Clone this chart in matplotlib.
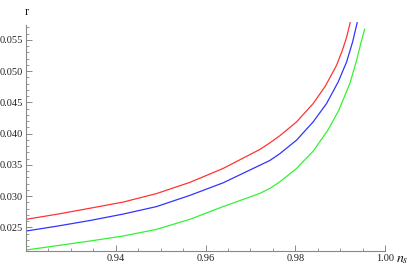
import matplotlib
matplotlib.use("Agg")
import matplotlib.pyplot as plt
from matplotlib.ticker import MultipleLocator, FixedLocator

# Data (n_s, r)
ns_red = [0.92000, 0.92707, 0.93420, 0.94163, 0.94907, 0.95650, 0.96392, 0.97211, 0.97434,
          0.97657, 0.97806, 0.98029, 0.98399, 0.98671, 0.98921, 0.99050, 0.99144, 0.99224]
r_red = [0.02628, 0.02712, 0.02805, 0.02904, 0.03040, 0.03219, 0.03442, 0.03746, 0.03851,
         0.03966, 0.04054, 0.04187, 0.04480, 0.04760, 0.05093, 0.05332, 0.05540, 0.05775]

ns_blue = [0.92000, 0.92707, 0.93420, 0.94163, 0.94907, 0.95650, 0.96392, 0.97137, 0.97434,
           0.97657, 0.98029, 0.98399, 0.98698, 0.98957, 0.99144, 0.99278, 0.99380]
r_blue = [0.02441, 0.02521, 0.02609, 0.02712, 0.02832, 0.03011, 0.03212, 0.03468, 0.03570,
          0.03679, 0.03895, 0.04187, 0.04481, 0.04826, 0.05145, 0.05465, 0.05775]

ns_green = [0.92000, 0.92707, 0.93420, 0.94163, 0.94907, 0.95650, 0.96392, 0.97211, 0.97434,
            0.97657, 0.98029, 0.98399, 0.98727, 0.98972, 0.99218, 0.99367, 0.99478, 0.99545]
r_green = [0.02137, 0.02209, 0.02281, 0.02361, 0.02468, 0.02628, 0.02832, 0.03043, 0.03123,
           0.03228, 0.03442, 0.03719, 0.04054, 0.04374, 0.04805, 0.05172, 0.05492, 0.05668]

x_major = [0.94, 0.96, 0.98, 1.00]
x_labels = ["0.94", "0.96", "0.98", "1.00"]
y_major = [0.025, 0.030, 0.035, 0.040, 0.045, 0.050, 0.055]
y_labels = ["0.025", "0.030", "0.035", "0.040", "0.045", "0.050", "0.055"]

xmin, xmax = 0.92, 1.00
ymin, ymax = 0.02117, 0.0578

plt.rcParams['font.family'] = ['Liberation Serif', 'DejaVu Serif']

fig = plt.figure(figsize=(4.15, 2.68), dpi=100)
ax = fig.add_axes([26/415, (268-251.3)/268, (385-26)/415, (251.3-22.3)/268])

ax.plot(ns_red, r_red, color=(1, 0.2, 0.2), lw=0.9)
ax.plot(ns_blue, r_blue, color=(0.2, 0.2, 1), lw=0.9)
ax.plot(ns_green, r_green, color=(0.2, 0.95, 0.2), lw=0.9)

ax.set_xlim(xmin, xmax)
ax.set_ylim(ymin, ymax)

axis_col = '#888888'
for s in ['top', 'right']:
    ax.spines[s].set_visible(False)
for s in ['left', 'bottom']:
    ax.spines[s].set_color(axis_col)
    ax.spines[s].set_linewidth(0.8)
ax.spines['left'].set_bounds(ymin, 0.0573)

ax.xaxis.set_major_locator(FixedLocator(x_major))
ax.set_xticklabels(x_labels)
ax.xaxis.set_minor_locator(MultipleLocator(0.005))
ax.yaxis.set_major_locator(FixedLocator(y_major))
ax.set_yticklabels(y_labels)
ax.yaxis.set_minor_locator(MultipleLocator(0.001))

ax.tick_params(which='major', direction='in', length=4, width=0.7, color=axis_col,
               labelsize=7.5, labelcolor='#222222', pad=2)
ax.tick_params(which='minor', direction='in', length=2, width=0.6, color=axis_col)

fig.text(27/415, 1 - 12/268, "r", fontsize=9, ha='center', va='center', color='#111111')
fig.text(396/415, 1 - 259/268, r"$n_s$", fontsize=10, ha='left', va='center', color='#111111',
         math_fontfamily='stix')

fig.savefig("out.png", dpi=100)
